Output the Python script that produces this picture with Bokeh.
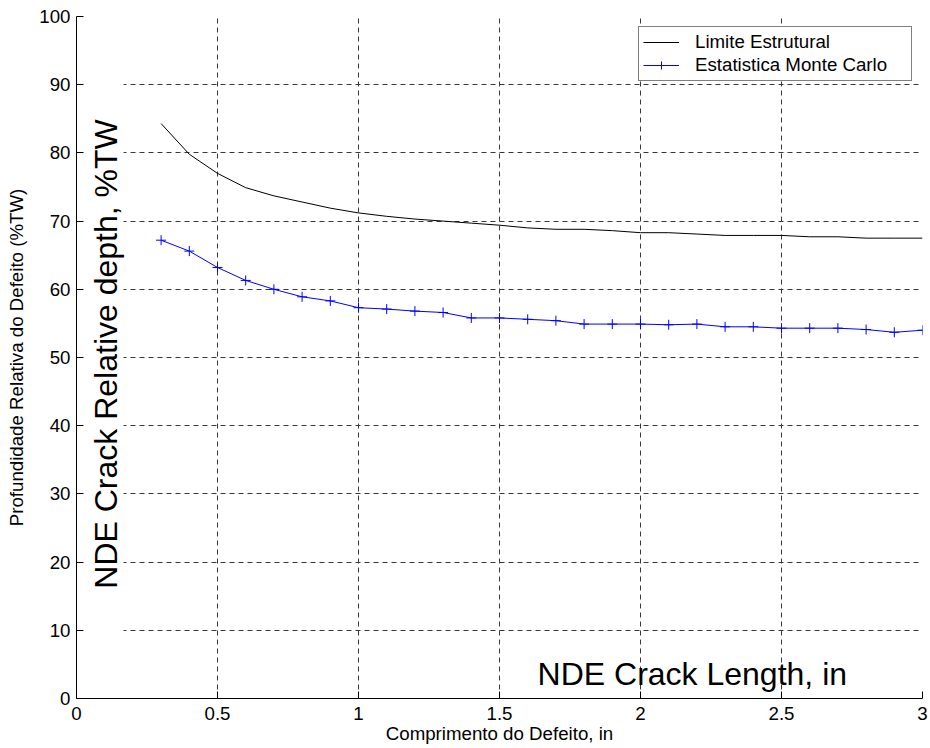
from bokeh.plotting import figure
from bokeh.models import Range1d, FixedTicker, NumeralTickFormatter, Label, BoxAnnotation, Legend
from bokeh.embed import file_html
from bokeh.resources import INLINE

# ---- data ----
crack_length = [0.3, 0.4, 0.5, 0.6, 0.7, 0.8, 0.9, 1.0, 1.1, 1.2, 1.3, 1.4, 1.5, 1.6,
                1.7, 1.8, 1.9, 2.0, 2.1, 2.2, 2.3, 2.4, 2.5, 2.6, 2.7, 2.8, 2.9, 3.0]
limite_estrutural = [84.3, 79.8, 77.0, 74.9, 73.7, 72.8, 71.9, 71.2, 70.7, 70.3, 70.0, 69.7,
                     69.4, 69.0, 68.8, 68.8, 68.6, 68.3, 68.3, 68.1, 67.9, 67.9, 67.9, 67.7,
                     67.7, 67.5, 67.5, 67.5]
monte_carlo = [67.2, 65.6, 63.2, 61.3, 60.0, 58.9, 58.3, 57.3, 57.1, 56.8, 56.6, 55.8,
               55.8, 55.6, 55.4, 54.9, 54.9, 54.9, 54.8, 54.9, 54.5, 54.5, 54.3, 54.3,
               54.3, 54.1, 53.7, 54.0]
x_ticks = [0, 0.5, 1, 1.5, 2, 2.5, 3]
y_ticks = [0, 10, 20, 30, 40, 50, 60, 70, 80, 90, 100]
series_names = ["Limite Estrutural", "Estatistica Monte Carlo"]

FONT = "Liberation Sans"
FS = "18.7px"

p = figure(width=930, height=748, output_backend="svg", toolbar_location=None,
           x_range=Range1d(0, 3), y_range=Range1d(0, 100),
           min_border_left=76, min_border_right=8, min_border_top=16, min_border_bottom=50)
p.outline_line_color = None
p.background_fill_color = "white"
p.border_fill_color = "white"

# axes
for ax in (p.xaxis[0], p.yaxis[0]):
    ax.major_tick_in = 7
    ax.major_tick_out = 0
    ax.minor_tick_in = 0
    ax.minor_tick_out = 0
    ax.axis_line_color = "black"
    ax.major_tick_line_color = "black"
    ax.major_label_text_font = FONT
    ax.major_label_text_font_size = FS
    ax.major_label_text_color = "black"
    ax.axis_label_text_font = FONT
    ax.axis_label_text_font_size = FS
    ax.axis_label_text_font_style = "normal"
    ax.axis_label_text_color = "black"

p.xaxis.major_label_standoff = 8
p.yaxis.major_label_standoff = 6
p.xaxis.ticker = FixedTicker(ticks=x_ticks)
p.yaxis.ticker = FixedTicker(ticks=y_ticks)
p.xaxis.formatter = NumeralTickFormatter(format="0.[0]")
p.yaxis.formatter = NumeralTickFormatter(format="0")
p.xaxis.axis_label = "Comprimento do Defeito, in"
p.yaxis.axis_label = "Profundidade Relativa do Defeito (%TW)"
p.xaxis.axis_label_standoff = 0
p.yaxis.axis_label_standoff = 9

# grid
for g in (p.xgrid[0], p.ygrid[0]):
    g.grid_line_color = "#383838"
    g.grid_line_dash = "5 4"
    g.grid_line_width = 1

# white background behind the big rotated label
p.add_layout(BoxAnnotation(left=0.028, right=0.167, bottom=8, top=92,
                           fill_color="white", fill_alpha=1, line_color=None))

# series
r1 = p.line(crack_length, limite_estrutural, line_color="black", line_width=1)
r2 = p.line(crack_length, monte_carlo, line_color="#0000ff", line_width=1)
r3 = p.scatter(crack_length, monte_carlo, marker="cross", size=10,
               line_color="#0000ff", line_width=1)

legend = Legend(items=[(series_names[0], [r1]), (series_names[1], [r2, r3])],
                location="top_right")
legend.margin = 10
legend.padding = 4
legend.spacing = 1
legend.label_height = 20
legend.glyph_height = 20
legend.glyph_width = 36
legend.label_standoff = 16
legend.label_width = 212
legend.label_text_font = FONT
legend.label_text_font_size = FS
legend.label_text_color = "black"
legend.border_line_color = "black"
legend.border_line_width = 1
legend.background_fill_color = "white"
legend.background_fill_alpha = 1
p.add_layout(legend)

# big annotation texts
p.add_layout(Label(x=1.635, y=3.6, text="NDE Crack Length, in",
                   text_font=FONT, text_font_size="32px", text_color="black",
                   text_align="left", text_baseline="alphabetic"))
p.add_layout(Label(x=0.103, y=16.1, text="NDE Crack Relative depth, %TW", angle=1.5707963,
                   text_font=FONT, text_font_size="32px", text_color="black",
                   text_align="left", text_baseline="alphabetic"))

open("out.html", "w").write(file_html(p, INLINE))
